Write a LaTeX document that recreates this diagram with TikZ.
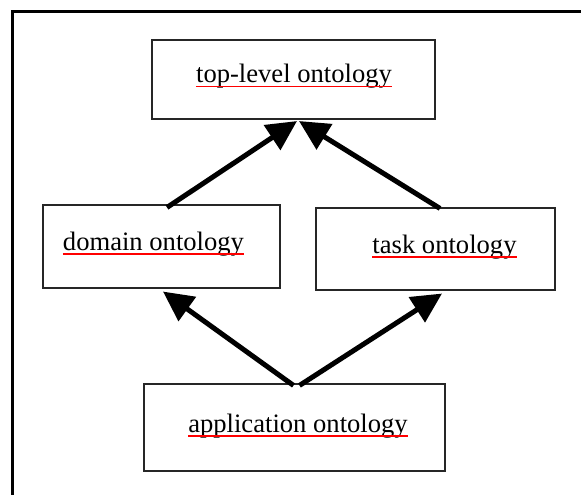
\documentclass[tikz,border=0pt]{standalone}
\usepackage{fontspec}
\setmainfont{Liberation Serif}
\usetikzlibrary{arrows.meta}
\begin{document}
\begin{tikzpicture}[x=1bp,y=-1bp,
  box/.style={draw=black!85,line width=1.1bp,rectangle,inner sep=0pt},
  lbl/.style={inner sep=0pt,anchor=base,font=\fontsize{26.6bp}{30bp}\selectfont},
  spell/.style={draw=red,line width=1.4bp},
  link/.style={line width=5bp,-{Triangle[length=30bp,width=29bp]}}]
\useasboundingbox (0,0) rectangle (581,495);
% outer frame (clipped on right and bottom)
\draw[line width=3bp] (12,495) -- (12,11.5) -- (581,11.5);
% boxes
\node[box,minimum width=283bp,minimum height=79bp] (top) at (293.5,79.5) {};
\node[box,minimum width=237bp,minimum height=83bp] (dom) at (161.5,246.5) {};
\node[box,minimum width=239bp,minimum height=82bp] (task) at (435.5,249) {};
\node[box,minimum width=301bp,minimum height=87bp] (app) at (294.5,427.5) {};
% labels
\node[lbl] (ttop) at (294,83) {top-level ontology};
\node[lbl] (tdom) at (153.5,250) {domain ontology};
\node[lbl] (ttask) at (444.5,253) {task ontology};
\node[lbl] (tapp) at (298,432) {application ontology};
% red spell-check underlines
\foreach \t in {ttop,tdom,ttask,tapp}{
  \draw[spell] ([yshift=-3.8bp]\t.base west) -- ([yshift=-3.8bp]\t.base east);
}
% connectors
\draw[link] ([xshift=5.5bp,yshift=-3bp]dom.north) -- ([xshift=3.5bp,yshift=-1.5bp]top.south);
\draw[link] ([xshift=4.5bp,yshift=-1bp]task.north) -- ([xshift=5.5bp,yshift=-1.5bp]top.south);
\draw[link] ([xshift=-1bp,yshift=-2bp]app.north) -- ([xshift=1.5bp,yshift=-3bp]dom.south);
\draw[link] ([xshift=5bp,yshift=-2bp]app.north) -- ([xshift=6.5bp,yshift=-3bp]task.south);
\end{tikzpicture}
\end{document}
